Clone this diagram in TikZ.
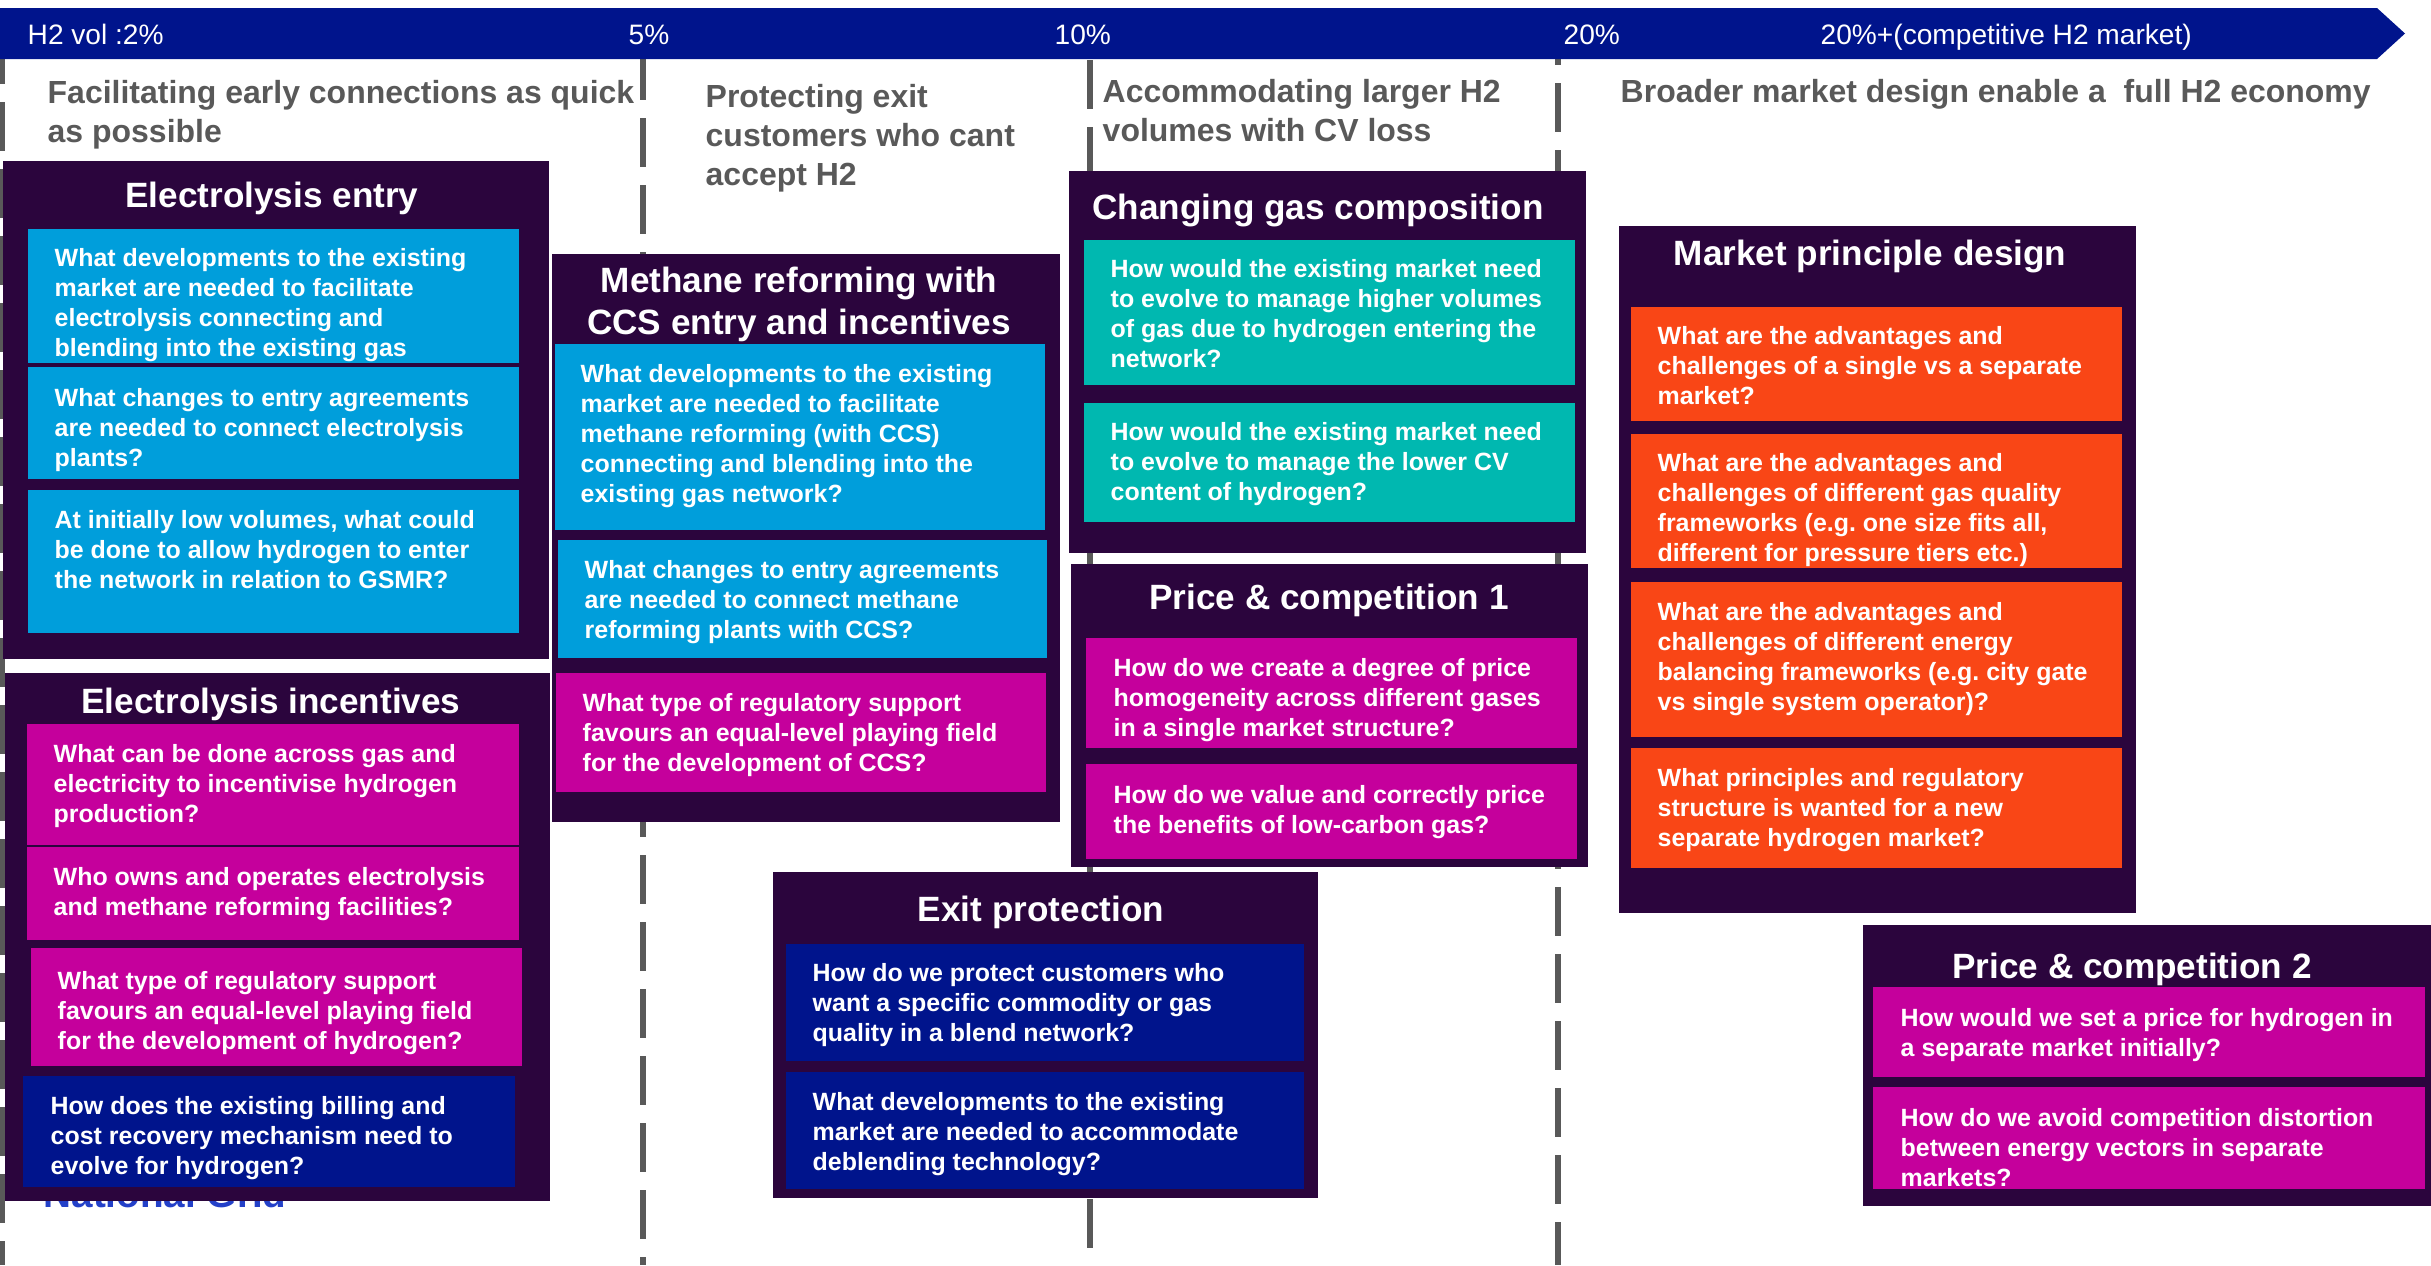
\documentclass[tikz,border=0pt]{standalone}
\usepackage{fontspec}
\setmainfont{Liberation Sans}
\definecolor{barblue}{HTML}{00148C}
\definecolor{boxpurple}{HTML}{2B053D}
\definecolor{qcyan}{HTML}{009EDB}
\definecolor{qteal}{HTML}{00B8B0}
\definecolor{qmagenta}{HTML}{C5009C}
\definecolor{qorange}{HTML}{F94616}
\definecolor{headgray}{HTML}{595959}
\definecolor{gridblue}{HTML}{2340C8}

\begin{document}
\frenchspacing
\begin{tikzpicture}[x = 0.1mm, y = -0.1mm,
		stage/.style = {draw = headgray, line width = 1.7pt, dash pattern = on 4.9mm off 1.8mm},
		outer/.style = {fill = boxpurple},
		title/.style = {anchor = north, inner sep = 0pt, text = white, align = center, font = \fontsize{10}{12}\selectfont\bfseries},
		question/.style = {anchor = north west, inner sep = 0pt, text = white, align = left, font = \fontsize{7.1}{8.5}\selectfont\bfseries},
		heading/.style = {anchor = north west, inner sep = 0pt, text = headgray, align = left, font = \fontsize{9.1}{11.1}\selectfont\bfseries},
		tick/.style = {anchor = base west, inner sep = 0pt, text = white, font = \fontsize{8}{9.6}\selectfont}]
					\useasboundingbox (0, 0) rectangle (2431, 1265);

					\coordinate (s0) at (2, 35);
					\coordinate (s5) at (643, 51);
					\coordinate (s10) at (1090, 60);
					\coordinate (s20) at (1558, 16);

					\draw [stage] (s0) -- (s0 |- 0, 1265);
					\draw [stage] (s5) -- (s5 |- 0, 1265);
					\draw [stage] (s10) -- (s10 |- 0, 1265);
					\draw [stage] (s20) -- (s20 |- 0, 1265);

					\fill [barblue] (0, 8) -- (2377, 8) -- (2405, 33.5) -- (2377, 59) -- (0, 59) -- cycle;

					\node [tick] (t2) at (27, 44) {H2 vol :2\%};
					\node [tick] (t5) at (628, 44) {5\%};
					\node [tick] (t10) at (1054, 44) {10\%};
					\node [tick] (t20) at (1563, 44) {20\%};
					\node [tick] (t20p) at (1820, 44) {20\%+(competitive H2 market)};

					\node [heading] (h2) at (47, 80) {Facilitating early connections as quick\\as possible};
					\node [heading] (h5) at (705, 84) {Protecting exit\\customers who cant\\accept H2};
					\node [heading] (h10) at (1102, 79) {Accommodating larger H2\\volumes with CV loss};
					\node [heading] (h20) at (1620, 79) {Broader market design enable a\ \ full H2 economy};

					\node [anchor = base west, inner sep = 0pt, text = gridblue, font = \fontsize{11}{13}\selectfont\bfseries] (ng) at (43, 1207) {National Grid};

					% electrolysis entry
					\fill [outer] (3, 161) rectangle (549, 659);
					\node [title] (entry) at (272, 181) {Electrolysis entry};
					\fill [qcyan] (28, 229) rectangle (519, 363);
					\node [question] (entry1) at (54, 248) {What developments to the existing\\market are needed to facilitate\\electrolysis connecting and\\blending into the existing gas};
					\fill [qcyan] (28, 367) rectangle (519, 479);
					\node [question] (entry2) at (54, 388) {What changes to entry agreements\\are needed to connect electrolysis\\plants?};
					\fill [qcyan] (28, 490) rectangle (519, 633);
					\node [question] (entry3) at (54, 510) {At initially low volumes, what could\\be done to allow hydrogen to enter\\the network in relation to GSMR?};

					% electrolysis incentives
					\fill [outer] (5, 673) rectangle (550, 1201);
					\node [title] (incent) at (271, 687) {Electrolysis incentives};
					\fill [qmagenta] (27, 724) rectangle (519, 845);
					\node [question] (incent1) at (53, 744) {What can be done across gas and\\electricity to incentivise hydrogen\\production?};
					\fill [qmagenta] (27, 847) rectangle (519, 940);
					\node [question] (incent2) at (53, 867) {Who owns and operates electrolysis\\and methane reforming facilities?};
					\fill [qmagenta] (31, 948) rectangle (522, 1066);
					\node [question] (incent3) at (57, 971) {What type of regulatory support\\favours an equal-level playing field\\for the development of hydrogen?};
					\fill [barblue] (23, 1076) rectangle (515, 1187);
					\node [question] (incent4) at (50, 1096) {How does the existing billing and\\cost recovery mechanism need to\\evolve for hydrogen?};

					% methane reforming
					\fill [outer] (552, 254) rectangle (1060, 822);
					\node [title] (meth) at (799, 266) {Methane reforming with\\CCS entry and incentives};
					\fill [qcyan] (555, 344) rectangle (1045, 530);
					\node [question] (meth1) at (580, 364) {What developments to the existing\\market are needed to facilitate\\methane reforming (with CCS)\\connecting and blending into the\\existing gas network?};
					\fill [qcyan] (558, 540) rectangle (1047, 658);
					\node [question] (meth2) at (584, 560) {What changes to entry agreements\\are needed to connect methane\\reforming plants with CCS?};
					\fill [qmagenta] (556, 673) rectangle (1046, 792);
					\node [question] (meth3) at (582, 693) {What type of regulatory support\\favours an equal-level playing field\\for the development of CCS?};

					% changing gas composition
					\fill [outer] (1069, 171) rectangle (1586, 553);
					\node [title] (comp) at (1318, 193) {Changing gas composition};
					\fill [qteal] (1084, 240) rectangle (1575, 385);
					\node [question] (comp1) at (1110, 259) {How would the existing market need\\to evolve to manage higher volumes\\of gas due to hydrogen entering the\\network?};
					\fill [qteal] (1084, 403) rectangle (1575, 522);
					\node [question] (comp2) at (1110, 422) {How would the existing market need\\to evolve to manage the lower CV\\content of hydrogen?};

					% price and competition 1
					\fill [outer] (1071, 564) rectangle (1588, 867);
					\node [title] (priceone) at (1329, 583) {Price \& competition 1};
					\fill [qmagenta] (1086, 638) rectangle (1577, 748);
					\node [question] (priceone1) at (1113, 658) {How do we create a degree of price\\homogeneity across different gases\\in a single market structure?};
					\fill [qmagenta] (1086, 764) rectangle (1577, 859);
					\node [question] (priceone2) at (1113, 785) {How do we value and correctly price\\the benefits of low-carbon gas?};

					% exit protection
					\fill [outer] (773, 872) rectangle (1318, 1198);
					\node [title] (exit) at (1041, 895) {Exit protection};
					\fill [barblue] (786, 944) rectangle (1304, 1061);
					\node [question] (exit1) at (812, 963) {How do we protect customers who\\want a specific commodity or gas\\quality in a blend network?};
					\fill [barblue] (786, 1072) rectangle (1304, 1189);
					\node [question] (exit2) at (812, 1092) {What developments to the existing\\market are needed to accommodate\\deblending technology?};

					% market principle design
					\fill [outer] (1619, 226) rectangle (2136, 913);
					\node [title] (mkt) at (1870, 239) {Market principle design};
					\fill [qorange] (1631, 307) rectangle (2122, 421);
					\node [question] (mkt1) at (1657, 326) {What are the advantages and\\challenges of a single vs a separate\\market?};
					\fill [qorange] (1631, 434) rectangle (2122, 568);
					\node [question] (mkt2) at (1657, 453) {What are the advantages and\\challenges of different gas quality\\frameworks (e.g. one size fits all,\\different for pressure tiers etc.)};
					\fill [qorange] (1631, 582) rectangle (2122, 737);
					\node [question] (mkt3) at (1657, 602) {What are the advantages and\\challenges of different energy\\balancing frameworks (e.g. city gate\\vs single system operator)?};
					\fill [qorange] (1631, 748) rectangle (2122, 868);
					\node [question] (mkt4) at (1657, 768) {What principles and regulatory\\structure is wanted for a new\\separate hydrogen market?};

					% price and competition 2
					\fill [outer] (1863, 925) rectangle (2431, 1206);
					\node [title] (pricetwo) at (2132, 952) {Price \& competition 2};
					\fill [qmagenta] (1873, 987) rectangle (2425, 1077);
					\node [question] (pricetwo1) at (1900, 1008) {How would we set a price for hydrogen in\\a separate market initially?};
					\fill [qmagenta] (1873, 1087) rectangle (2425, 1189);
					\node [question] (pricetwo2) at (1900, 1108) {How do we avoid competition distortion\\between energy vectors in separate\\markets?};
				\end{tikzpicture}
\end{document}
